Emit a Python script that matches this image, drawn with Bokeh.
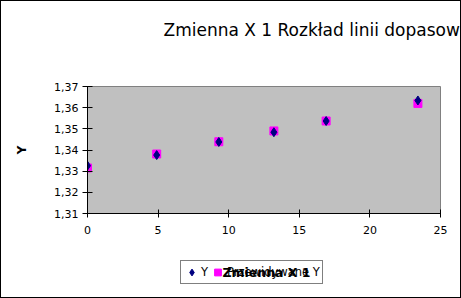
from bokeh.plotting import figure
from bokeh.layouts import column
from bokeh.models import (Range1d, FixedTicker, CustomJSTickFormatter, Title,
                          Label, Legend, LegendItem)
from bokeh.embed import file_html
from bokeh.resources import INLINE

# ---- data ----
x_vals = [0.0, 4.9, 9.3, 13.2, 16.9, 23.4]
y_vals = [1.3326, 1.3376, 1.3438, 1.3484, 1.3537, 1.3634]
pred_vals = [1.3315, 1.3381, 1.3439, 1.3490, 1.3537, 1.3620]
x_ticks = [0, 5, 10, 15, 20, 25]
y_ticks = [1.31, 1.32, 1.33, 1.34, 1.35, 1.36, 1.37]
title_text = "Zmienna X 1 Rozkład linii dopasowania"
x_label = "Zmienna X 1"
y_label = "Y"
series_names = ["Y", "Przewidywane Y"]

FONT = "DejaVu Sans"
Y_COLOR = "#000080"
P_COLOR = "#ff00ff"


def strip(height):
    f = figure(width=459, height=height, output_backend="svg",
               toolbar_location=None, x_axis_type=None, y_axis_type=None,
               min_border_left=0, min_border_right=0,
               min_border_top=0, min_border_bottom=0,
               x_range=Range1d(0, 1), y_range=Range1d(0, 1))
    f.background_fill_color = "white"
    f.border_fill_color = "white"
    f.outline_line_color = None
    f.xgrid.visible = False
    f.ygrid.visible = False
    return f


# ---- top strip: chart title ----
t = strip(60)
t.title = Title(text=title_text, align="left", offset=76,
                text_font=FONT, text_font_size="17px",
                text_font_style="normal", text_color="black", standoff=32)

# ---- main chart ----
p = figure(width=459, height=180, output_backend="svg", toolbar_location=None,
           x_range=Range1d(0, 25), y_range=Range1d(1.31, 1.37),
           min_border_left=86, min_border_right=20,
           min_border_top=25, min_border_bottom=28)
p.background_fill_color = "#c0c0c0"
p.border_fill_color = "white"
p.outline_line_color = "#808080"
p.outline_line_width = 1
p.xgrid.visible = False
p.ygrid.visible = False

fmt = CustomJSTickFormatter(code="return tick.toFixed(2).replace('.', ',');")
p.yaxis.ticker = FixedTicker(ticks=y_ticks)
p.yaxis.formatter = fmt
p.xaxis.ticker = FixedTicker(ticks=x_ticks)
for ax in (p.xaxis[0], p.yaxis[0]):
    ax.axis_line_color = "black"
    ax.major_tick_line_color = "black"
    ax.minor_tick_line_color = None
    ax.major_label_text_font = FONT
    ax.major_label_text_font_size = "11px"
    ax.major_label_text_color = "black"
    ax.axis_label_text_font = FONT
    ax.axis_label_text_font_size = "12px"
    ax.axis_label_text_font_style = "bold"
    ax.axis_label_text_color = "black"
p.yaxis.major_tick_out = 5
p.yaxis.major_tick_in = 5
p.yaxis.major_label_standoff = 4
p.yaxis.axis_label = y_label
p.yaxis.axis_label_standoff = 22
p.xaxis.major_tick_out = 4
p.xaxis.major_tick_in = 4
p.xaxis.major_label_standoff = 8

p.scatter(x_vals, pred_vals, marker="square", size=8,
          fill_color=P_COLOR, line_color=P_COLOR)
p.scatter(x_vals, y_vals, marker="diamond", size=9,
          fill_color=Y_COLOR, line_color=Y_COLOR)

# ---- bottom strip: legend and x-axis title ----
# (its ranges keep the series out of view, so only the legend keys show)
q = strip(56)
ky = q.scatter(x_vals, y_vals, marker="diamond", size=9,
               fill_color=Y_COLOR, line_color=Y_COLOR)
kp = q.scatter(x_vals, pred_vals, marker="square", size=8,
               fill_color=P_COLOR, line_color=P_COLOR)

legend = Legend(items=[LegendItem(label=series_names[0], renderers=[ky]),
                       LegendItem(label=series_names[1], renderers=[kp])],
                location=(93, 13), orientation="horizontal",
                padding=2, margin=0, spacing=0, label_standoff=1,
                glyph_width=17, glyph_height=18,
                label_width=8, label_height=14,
                border_line_color="black", border_line_width=1,
                background_fill_alpha=0,
                label_text_font=FONT, label_text_font_size="11.5px",
                label_text_color="black")
q.add_layout(legend, "center")
q.add_layout(Label(x=179, y=25, x_units="screen", y_units="screen",
                   text=x_label, text_font=FONT, text_font_size="12.5px",
                   text_font_style="bold", text_align="center",
                   text_baseline="alphabetic", text_color="black",
                   level="overlay"))

layout = column(t, p, q, spacing=0)
layout.styles = {"border": "1px solid black"}

open("out.html", "w").write(file_html(layout, INLINE))
